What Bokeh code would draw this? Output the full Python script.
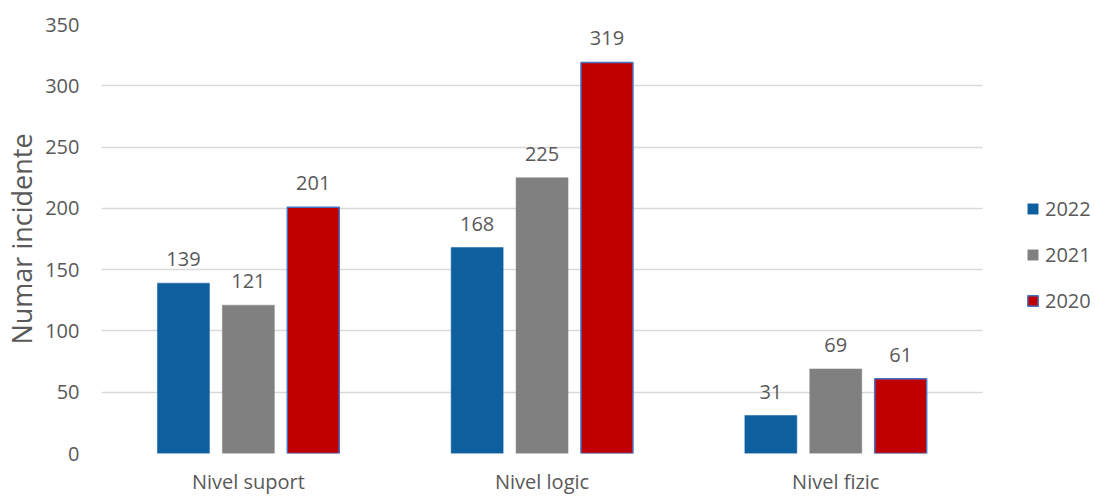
from bokeh.plotting import figure
from bokeh.models import ColumnDataSource, Range1d, Legend, LegendItem, SingleIntervalTicker, FixedTicker
from bokeh.transform import dodge
from bokeh.core.properties import value
from bokeh.embed import file_html
from bokeh.resources import INLINE

categories = ["Nivel suport", "Nivel logic", "Nivel fizic"]
years = ["2022", "2021", "2020"]
v2022 = [139, 168, 31]
v2021 = [121, 225, 69]
v2020 = [201, 319, 61]
colors = ["#0E5FA0", "#808080", "#C00000"]
outlines = ["#0E5FA0", "#808080", "#4472C4"]

FONT = "Open Sans"
TXT = "#595959"

xs = [i + 0.5 for i in range(len(categories))]
src = ColumnDataSource(dict(x=xs, cat=categories, y2022=v2022, y2021=v2021, y2020=v2020,
                            l2022=[str(v) for v in v2022],
                            l2021=[str(v) for v in v2021],
                            l2020=[str(v) for v in v2020]))

p = figure(width=1095, height=498, x_range=Range1d(0, 995 / 294), y_range=Range1d(0, 350),
           output_backend="svg", toolbar_location=None,
           min_border_left=100, min_border_right=0, min_border_top=24, min_border_bottom=45)
p.outline_line_color = None
p.background_fill_color = "white"
p.border_fill_color = "white"

offsets = [-0.221, 0.0, 0.221]
fields = ["y2022", "y2021", "y2020"]
labels = ["l2022", "l2021", "l2020"]
renderers = []
for f, lab, off, c, oc in zip(fields, labels, offsets, colors, outlines):
    r = p.vbar(x=dodge("x", off), top=f, width=0.177, source=src,
               fill_color=c, line_color=oc, line_width=1.5 if oc != c else 0.5)
    renderers.append(r)
    p.text(x=dodge("x", off), y=f, text=lab, source=src,
           text_align="center", text_baseline="bottom", y_offset=-17,
           text_font=value(FONT), text_font_size="20px", text_color=TXT)

legend = Legend(items=[LegendItem(label=y, renderers=[r]) for y, r in zip(years, renderers)],
                location=(925, 139), border_line_color=None, background_fill_alpha=0,
                label_text_font=FONT, label_text_font_size="20px", label_text_color=TXT,
                glyph_width=13, glyph_height=13, spacing=19, label_standoff=6,
                padding=0, margin=0)
p.add_layout(legend)

p.xgrid.grid_line_color = None
p.ygrid.grid_line_color = "#D9D9D9"
p.ygrid.grid_line_width = 1.5
p.ygrid.cross_bounds = (0, len(categories))
p.yaxis.ticker = SingleIntervalTicker(interval=50)
p.xaxis.ticker = FixedTicker(ticks=xs)
p.xaxis.major_label_overrides = {x: c for x, c in zip(xs, categories)}
for ax in (p.xaxis[0], p.yaxis[0]):
    ax.axis_line_color = None
    ax.major_tick_line_color = None
    ax.minor_tick_line_color = None
    ax.major_label_text_font = FONT
    ax.major_label_text_font_size = "20px"
    ax.major_label_text_color = TXT
p.yaxis.major_label_standoff = 16
p.xaxis.major_label_standoff = 8
p.yaxis.axis_label = "Numar incidente"
p.yaxis.axis_label_text_font = FONT
p.yaxis.axis_label_text_font_size = "27px"
p.yaxis.axis_label_text_font_style = "normal"
p.yaxis.axis_label_text_color = TXT
p.yaxis.axis_label_standoff = 2

open("out.html", "w").write(file_html(p, INLINE))
